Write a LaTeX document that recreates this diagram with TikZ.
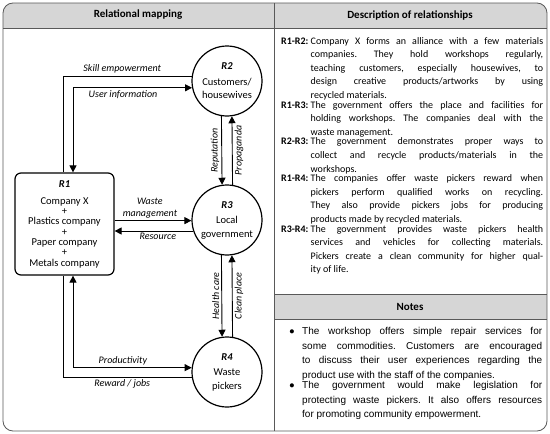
\documentclass[tikz,border=0pt]{standalone}
\usepackage{fontspec}
\setmainfont{Carlito}
\newfontfamily\notefont{Liberation Sans}
\usetikzlibrary{arrows.meta}

\newlength\relw
\newcommand\relpair[2]{\noindent\makebox[\relw][l]{\textbf{#1:}}\parbox[t]{\dimexpr262pt-\relw\relax}{\spaceskip=0pt\xspaceskip=0pt #2}\par}
\newcommand\noteitem[1]{\noindent\makebox[13pt][l]{\raisebox{0.3pt}{\fontsize{9.5}{9}\selectfont ●}}\parbox[t]{240pt}{\spaceskip=0pt\xspaceskip=0pt #1}\par}

\begin{document}
\begin{tikzpicture}[x=1pt,y=-1pt]

\tikzset{
  >={Triangle[length=7pt,width=7pt]},
  PanelLine/.style = {draw=black!65, line width=0.8pt},
  HubStyle/.style = {circle, draw, line width=1.2pt, minimum size=70pt, inner sep=0pt, align=center, font=\fontsize{10.5}{13.5}\selectfont},
  LinkStyle/.style = {line width=0.9pt},
  TagStyle/.style = {font=\fontsize{10}{11.5}\selectfont\itshape, inner sep=2pt},
  HeadStyle/.style = {font=\fontsize{11}{13}\selectfont\bfseries}
}

\useasboundingbox (0,0) rectangle (550,434);

\begin{scope}
\clip[rounded corners=10pt] (3,3) rectangle (547,431);
\fill[black!16] (3,3) rectangle (547,28);
\fill[black!16] (274,294) rectangle (547,319);
\end{scope}
\draw[PanelLine, rounded corners=10pt] (3,3) rectangle (547,431);
\draw[PanelLine] (3,28) -- (547,28) (274,3) -- (274,431) (274,294) -- (547,294) (274,319) -- (547,319);

\node[HeadStyle] (headmap) at (138,15) {Relational mapping};
\node[HeadStyle] (headdesc) at (410,15) {Description of relationships};
\node[HeadStyle] (headnotes) at (410,307) {Notes};

\node[draw, rounded corners=6pt, line width=1.2pt, minimum width=99pt, minimum height=102pt, align=center,
  font=\fontsize{10.5}{10.3}\selectfont] (r1) at (64.5,224)
  {\textbf{\textit{R1}}\\[7pt]Company X\\+\\Plastics company\\+\\Paper company\\+\\Metals company};
\node[HubStyle] (r2) at (227,81) {\textbf{\textit{R2}}\\[2pt]Customers/\\housewives};
\node[HubStyle] (r3) at (227,220) {\textbf{\textit{R3}}\\[2pt]Local\\government};
\node[HubStyle] (r4) at (227,372) {\textbf{\textit{R4}}\\[2pt]Waste\\pickers};

\draw[LinkStyle] (r2.172) -| ([xshift=-1.5pt]r1.north) node[TagStyle, above, pos=0.27] {Skill empowerment};
\draw[LinkStyle, <->] ([xshift=8.5pt]r1.north) |- (r2.191.5) node[TagStyle, below, pos=0.71] {User information};
\draw[LinkStyle, ->] (r1.east |- r3.181.6) -- (r3.181.6) node[TagStyle, above, pos=0.46, align=center] {Waste\\management};
\draw[LinkStyle, ->] (r3.198.3) -- (r3.198.3 -| r1.east) node[TagStyle, below, pos=0.45] {Resource};
\draw[LinkStyle, <->] ([xshift=8.5pt]r1.south) |- (r4.173.4) node[TagStyle, above, pos=0.71] {Productivity};
\draw[LinkStyle] (r4.189.9) -| ([xshift=-1.5pt]r1.south) node[TagStyle, below, pos=0.27] {Reward / jobs};

\draw[LinkStyle, ->] (r2.261.8) -- (r3.98.2) node[TagStyle, rotate=90, anchor=south, midway] {Reputation};
\draw[LinkStyle, ->] (r3.81.8) -- (r2.278.2) node[TagStyle, rotate=90, anchor=north, midway] {Propaganda};
\draw[LinkStyle, ->] (r3.261.8) -- (r4.98.2) node[TagStyle, rotate=90, anchor=south, midway] {Health care};
\draw[LinkStyle, ->] (r4.81.8) -- (r3.278.2) node[TagStyle, rotate=90, anchor=north, midway] {Clean place};

\node[anchor=north west, inner sep=0pt, font=\frenchspacing\fontsize{10}{13.6}\selectfont] (desc) at (281,37)
  {\parbox[t]{262pt}{\settowidth{\relw}{\textbf{R1-R2:}\ }%
\relpair{R1-R2}{Company X forms an alliance with a few materials\linebreak companies. They hold workshops regularly,\linebreak teaching customers, especially housewives, to\linebreak design creative products/artworks by using\linebreak recycled materials.}
\relpair{R1-R3}{The government offers the place and facilities for\linebreak holding workshops. The companies deal with the\linebreak waste management.}
\relpair{R2-R3}{The government demonstrates proper ways to\linebreak collect and recycle products/materials in the\linebreak workshops.}
\relpair{R1-R4}{The companies offer waste pickers reward when\linebreak pickers perform qualified works on recycling.\linebreak They also provide pickers jobs for producing\linebreak products made by recycled materials.}
\relpair{R3-R4}{The government provides waste pickers health\linebreak services and vehicles for collecting materials.\linebreak Pickers create a clean community for higher qual-\linebreak ity of life.}}};

\node[anchor=north west, inner sep=0pt, font=\frenchspacing\notefont\fontsize{10}{14.6}\selectfont] (notes) at (289,327)
  {\parbox[t]{253pt}{%
\noteitem{The workshop offers simple repair services for\linebreak some commodities. Customers are encouraged\linebreak to discuss their user experiences regarding the\linebreak product use with the staff of the companies.}
\noteitem{The government would make legislation for\linebreak protecting waste pickers. It also offers resources\linebreak for promoting community empowerment.}}};

\end{tikzpicture}
\end{document}
